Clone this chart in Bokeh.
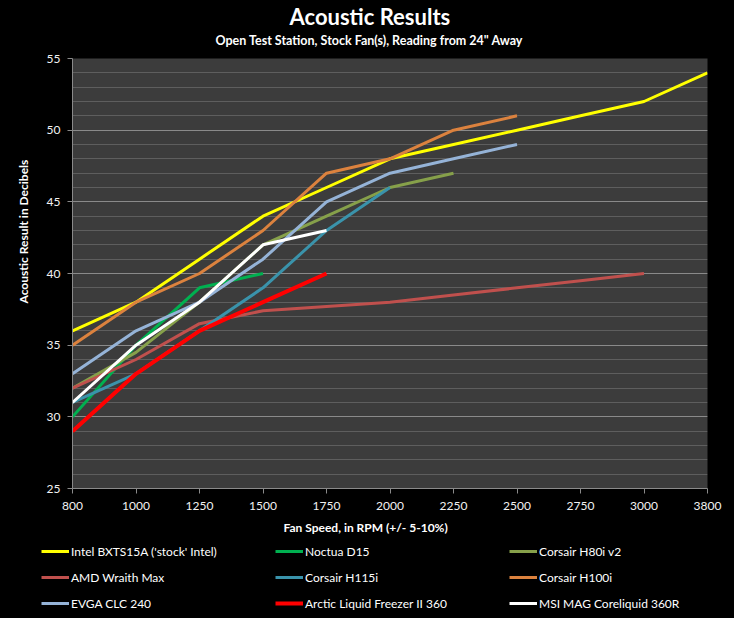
from bokeh.plotting import figure
from bokeh.layouts import column
from bokeh.models import Legend, LegendItem, Title, FixedTicker, SingleIntervalTicker, Range1d
from bokeh.embed import file_html
from bokeh.resources import INLINE

rpm_labels = ["800", "1000", "1250", "1500", "1750", "2000", "2250", "2500", "2750", "3000", "3800"]

series_names = [
    "Intel BXTS15A ('stock' Intel)", "Noctua D15", "Corsair H80i v2",
    "AMD Wraith Max", "Corsair H115i", "Corsair H100i",
    "EVGA CLC 240", "Arctic Liquid Freezer II 360", "MSI MAG Coreliquid 360R",
]
intel = [36, 38, 41, 44, 46, 48, 49, 50, 51, 52, 54]
noctua = [30, 35, 39, 40]
h80i = [32, 34.5, 38, 42, 44, 46, 47]
amd = [32, 34, 36.5, 37.4, 37.7, 38, 38.5, 39, 39.5, 40]
h115i = [31, 33, 36, 39, 43, 46]
h100i = [35, 38, 40, 43, 47, 48, 50, 51]
evga = [33, 36, 38, 41, 45, 47, 48, 49]
arctic = [29, 33, 36, 38, 40]
msi = [31, 35, 38, 42, 43]
series_values = [intel, noctua, h80i, amd, h115i, h100i, evga, arctic, msi]

colors = ["#FFFF00", "#00B050", "#86A04A", "#C0504D", "#3A93AB", "#DC823E", "#95B3D7", "#FF0000", "#FFFFFF"]
widths = [3, 3, 3, 3, 3, 3, 3, 4, 3]

FONT = "Lato"

p = figure(width=734, height=517, output_backend="svg", toolbar_location=None, title=None,
           x_range=Range1d(0, len(rpm_labels) - 1), y_range=Range1d(25, 55),
           background_fill_color="#3C3C3C", border_fill_color="black",
           min_border_left=70, min_border_right=27, min_border_top=58, min_border_bottom=29,
           outline_line_color=None, frame_align=False)

idx = list(range(len(rpm_labels)))
for vals, c, w in zip(series_values, colors, widths):
    p.line(idx[:len(vals)], vals, line_color=c, line_width=w)

p.xaxis.ticker = FixedTicker(ticks=idx)
p.xaxis.major_label_overrides = {i: l for i, l in enumerate(rpm_labels)}
p.yaxis.ticker = SingleIntervalTicker(interval=5, num_minor_ticks=5)

for ax in (p.xaxis[0], p.yaxis[0]):
    ax.axis_line_color = "#8A8A8A"
    ax.major_tick_line_color = "#8A8A8A"
    ax.major_tick_out = 5
    ax.major_tick_in = 0
    ax.minor_tick_line_color = None
    ax.major_label_text_color = "#F2F2F2"
    ax.major_label_text_font = FONT
    ax.major_label_text_font_size = "12px"
p.xaxis.major_label_standoff = 8
p.yaxis.major_label_standoff = 7

p.xgrid.visible = False
p.ygrid.grid_line_color = "#8A8A8A"
p.ygrid.minor_grid_line_color = "#5E5E5E"

p.add_layout(Title(text='Open Test Station, Stock Fan(s), Reading from 24" Away', align="left", offset=143,
                   vertical_align="top",
                   text_font=FONT, text_font_size="12.5px", text_font_style="bold", text_color="white",
                   standoff=18), "above")
p.add_layout(Title(text="Acoustic Results", align="left", offset=217,
                   text_font=FONT, text_font_size="22px", text_font_style="bold", text_color="white",
                   standoff=-12), "above")
p.add_layout(Title(text="Acoustic Result in Decibels", align="left", offset=185,
                   text_font=FONT, text_font_size="12px", text_font_style="bold", text_color="white",
                   standoff=26), "left")

# strip under the chart: x-axis title and the legend
lg = figure(width=734, height=101, output_backend="svg", toolbar_location=None, title=None,
            x_axis_type=None, y_axis_type=None, x_range=Range1d(0, 1), y_range=Range1d(0, 1),
            min_border=0, min_border_top=18, background_fill_color="black", border_fill_color="black",
            outline_line_color=None, frame_align=False)
lg.grid.visible = False
lg.add_layout(Title(text="Fan Speed, in RPM (+/- 5-10%)", align="left", offset=283,
                    text_font=FONT, text_font_size="12px", text_font_style="bold", text_color="white",
                    standoff=1), "above")

items = []
for name, vals, c, w in zip(series_names, series_values, colors, widths):
    # legend proxies: same data, lying outside this strip's ranges, so only the legend shows
    r = lg.line(idx[:len(vals)], vals, line_color=c, line_width=w)
    items.append(LegendItem(label=name, renderers=[r]))

legend = Legend(items=items, orientation="horizontal", ncols=3, location=(41, 7),
                background_fill_color="black", border_line_color=None,
                label_text_color="white", label_text_font=FONT, label_text_font_size="12px",
                glyph_width=28, glyph_height=16, label_height=16, label_width=194,
                label_standoff=2, spacing=10, padding=0, margin=0)
lg.add_layout(legend, "center")

page = column(p, lg, spacing=0, styles={"background-color": "black"})
open("out.html", "w").write(file_html(page, INLINE))
